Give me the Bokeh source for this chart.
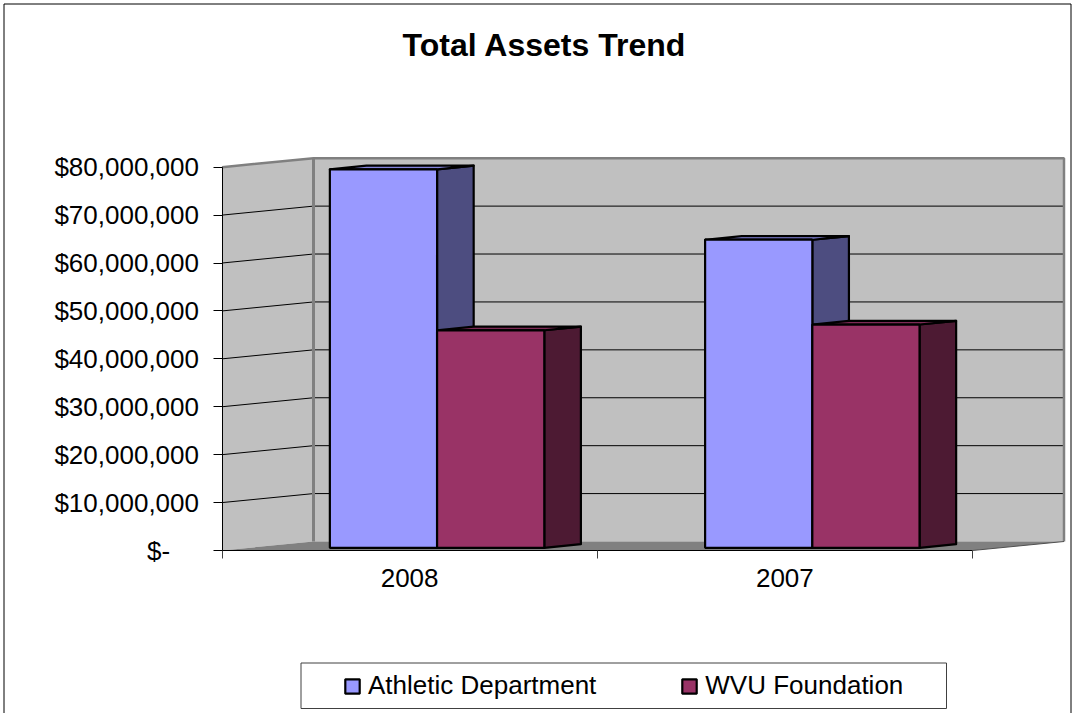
from bokeh.plotting import figure
from bokeh.models import LinearAxis, FixedTicker, Range1d, Label, ColumnDataSource
from bokeh.embed import file_html
from bokeh.resources import INLINE

# ---------------- data ----------------
title_text = "Total Assets Trend"
categories = ["2008", "2007"]
series_names = ["Athletic Department", "WVU Foundation"]
athletic = [79.0e6, 64.3e6]
wvu = [45.4e6, 46.6e6]
y_ticks = [0, 10e6, 20e6, 30e6, 40e6, 50e6, 60e6, 70e6, 80e6]

front_colors = ["#9999FF", "#993366"]
side_colors = ["#4D4D80", "#4D1A33"]
top_colors = ["#8585DD", "#7D2A55"]

FONT = "Liberation Sans"

# ---------------- geometry / scales ----------------
W, H = 1072, 713
OX, OY = 0, 0             # picture offset of the canvas
X0PX, XPX = 221.5, 375.25  # px of category 0, px per category unit
Y0PX = 550.0
YPX = 383.3 / 80e6         # px per dollar


def px2x(px):
    return (px - X0PX) / XPX


def px2y(py):
    return (Y0PX - py) / YPX


DX = 91.5 / XPX   # full depth offset (category units)
DY = 9.0 / YPX    # full depth offset (dollars)
Z0, Z1 = 0.3, 0.7
GAP = 1.5
n_series = 2
bar_w = 1.0 / (n_series + GAP)
ymax = y_ticks[-1]
ncat = len(categories)

p = figure(width=W, height=H, output_backend="svg", toolbar_location=None,
           x_axis_type=None, y_axis_type=None, min_border=0,
           x_range=Range1d(px2x(OX), px2x(OX + W)),
           y_range=Range1d(px2y(OY + H), px2y(OY)))
p.outline_line_color = None
p.background_fill_color = "white"
p.border_fill_color = "white"

# ---------------- walls & floor ----------------
p.quad(left=[DX], right=[ncat + DX], bottom=[DY], top=[ymax + DY],
       fill_color="#C0C0C0", line_color=None)
p.patch([0, DX, DX, 0], [0, DY, ymax + DY, ymax], fill_color="#C0C0C0", line_color=None)
p.patch([0, ncat, ncat + DX, DX], [0, 0, DY, DY], fill_color="#808080", line_color=None)

# gridlines
gxs, gys = [], []
for v in y_ticks[1:-1]:
    gxs.append([DX, ncat + DX]); gys.append([v + DY, v + DY])
    gxs.append([0, DX]); gys.append([v, v + DY])
p.multi_line(gxs, gys, line_color="black", line_width=1)

# wall edges
p.multi_line([[0, DX, ncat + DX, ncat + DX]], [[ymax, ymax + DY, ymax + DY, DY]],
             line_color="#808080", line_width=2.5)
p.line([DX, DX], [DY, ymax + DY], line_color="#808080", line_width=3)
p.line([ncat, ncat + DX], [0, DY], line_color="#505050", line_width=1)

# ---------------- bars ----------------
series_vals = [athletic, wvu]
side_src = dict(xs=[], ys=[], c=[])
top_src = dict(xs=[], ys=[], c=[])
fronts = []
for s, vals in enumerate(series_vals):
    fl, fr, fb, ft = [], [], [], []
    for i, v in enumerate(vals):
        xl = i + 0.5 - bar_w * n_series / 2 + s * bar_w
        xr = xl + bar_w
        side_src["xs"].append([xr + Z0 * DX, xr + Z1 * DX, xr + Z1 * DX, xr + Z0 * DX])
        side_src["ys"].append([Z0 * DY, Z1 * DY, v + Z1 * DY, v + Z0 * DY])
        side_src["c"].append(side_colors[s])
        top_src["xs"].append([xl + Z0 * DX, xr + Z0 * DX, xr + Z1 * DX, xl + Z1 * DX])
        top_src["ys"].append([v + Z0 * DY, v + Z0 * DY, v + Z1 * DY, v + Z1 * DY])
        top_src["c"].append(top_colors[s])
        fl.append(xl + Z0 * DX); fr.append(xr + Z0 * DX)
        fb.append(Z0 * DY); ft.append(v + Z0 * DY)
    fronts.append(dict(left=fl, right=fr, bottom=fb, top=ft))

p.patches("xs", "ys", source=ColumnDataSource(side_src), fill_color="c",
          line_color="black", line_width=2.2, line_join="round")
p.patches("xs", "ys", source=ColumnDataSource(top_src), fill_color="c",
          line_color="black", line_width=2.2, line_join="round")
for s, fd in enumerate(fronts):
    p.quad(source=ColumnDataSource(fd), left="left", right="right", bottom="bottom", top="top",
           fill_color=front_colors[s], line_color="black", line_width=2.2,
           legend_label=series_names[s])

# ---------------- axes ----------------
ylabels = {}
for v in y_ticks:
    ylabels[v] = "$" + f"{v:,.0f}" if v else "$-\u2007\u2007"
yaxis = LinearAxis(fixed_location=0, bounds=(0, ymax),
                   ticker=FixedTicker(ticks=y_ticks),
                   major_label_overrides=ylabels,
                   major_tick_in=0, major_tick_out=9, minor_tick_out=0, minor_tick_in=0,
                   major_label_standoff=14,
                   axis_line_color="black", major_tick_line_color="black",
                   major_label_text_font=FONT, major_label_text_font_size="26px",
                   major_label_text_color="black")
p.add_layout(yaxis, "left")

xaxis = LinearAxis(fixed_location=0, bounds=(0, ncat),
                   ticker=FixedTicker(ticks=[i + 0.5 for i in range(ncat)],
                                      minor_ticks=list(range(ncat + 1))),
                   major_label_overrides={i + 0.5: c for i, c in enumerate(categories)},
                   major_tick_in=0, major_tick_out=0, minor_tick_in=0, minor_tick_out=8,
                   major_label_standoff=10,
                   axis_line_color="black", minor_tick_line_color="#404040",
                   major_label_text_font=FONT, major_label_text_font_size="26px",
                   major_label_text_color="black")
p.add_layout(xaxis, "below")

# ---------------- title ----------------
p.add_layout(Label(x=px2x(544), y=px2y(44), text=title_text, text_align="center",
                   text_baseline="alphabetic", text_font=FONT, text_font_size="32px",
                   text_font_style="bold", text_color="black"))

# ---------------- legend ----------------
p.quad(left=[px2x(300.5)], right=[px2x(946)], bottom=[px2y(708)], top=[px2y(662.5)],
       fill_color="white", line_color="#404040", line_width=1)
lg = p.legend[0]
lg.orientation = "horizontal"
lg.location = (343, H - 701)
lg.padding = 0
lg.margin = 0
lg.spacing = 84
lg.glyph_width = 18
lg.glyph_height = 18
lg.label_standoff = 7
lg.label_text_font = FONT
lg.label_text_font_size = "26px"
lg.label_text_color = "black"
lg.border_line_alpha = 0
lg.background_fill_alpha = 0

# ---------------- chart border ----------------
p.multi_line([[px2x(3.5), px2x(3.5), px2x(1070.5), px2x(1070.5)]],
             [[px2y(720), px2y(3.5), px2y(3.5), px2y(720)]],
             line_color="black", line_width=1)

open("out.html", "w").write(file_html(p, INLINE))
